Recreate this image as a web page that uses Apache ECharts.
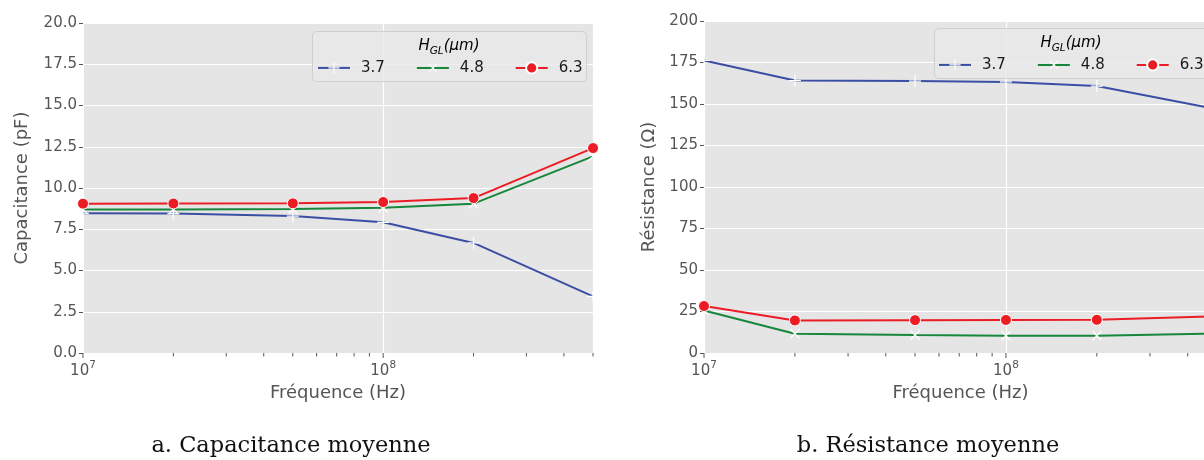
<!DOCTYPE html>
<html>
<head>
<meta charset="utf-8">
<script src="https://cdn.jsdelivr.net/npm/echarts@6/dist/echarts.min.js"></script>
<style>
html,body{margin:0;padding:0;background:#fff;overflow:hidden;width:1204px;height:460px;}
#chart{width:1230px;height:460px;}
</style>
</head>
<body>
<div id="chart"></div>
<script>
// ---- data ----
const freqs = [1e7, 2e7, 5e7, 1e8, 2e8, 5e8];
const seriesNames = ['3.7', '4.8', '6.3'];
const capa37 = [8.47, 8.45, 8.30, 7.92, 6.67, 3.43];
const capa48 = [8.70, 8.70, 8.72, 8.80, 9.05, 11.92];
const capa63 = [9.05, 9.06, 9.07, 9.15, 9.39, 12.42];
const res37 = [176.2, 164.1, 163.8, 163.3, 160.8, 146.8];
const res48 = [25.6, 11.6, 10.8, 10.4, 10.4, 11.7];
const res63 = [28.3, 19.6, 19.8, 19.9, 20.0, 22.2];
const capaTicks = [0, 2.5, 5, 7.5, 10, 12.5, 15, 17.5, 20];
const resTicks = [0, 25, 50, 75, 100, 125, 150, 175, 200];
const majorTicks = [1e7, 1e8];
const minorTicks = [2e7, 3e7, 4e7, 5e7, 6e7, 7e7, 8e7, 9e7, 2e8, 3e8, 4e8, 5e8];

const colors = {'3.7': '#3a4fa3', '4.8': '#16873b', '6.3': '#ec1c24'};
const plusPath = 'path://M9,0h2v9h9v2h-9v9h-2v-9h-9v-2h9z';
const fontSans = '"DejaVu Sans", sans-serif';

function markerFor(name) {
  if (name === '3.7') return {symbol: plusPath, symbolSize: 12, symbolRotate: 0, itemStyle: {color: '#ffffff'}};
  if (name === '4.8') return {symbol: plusPath, symbolSize: 13, symbolRotate: 45, itemStyle: {color: '#ffffff'}};
  return {symbol: 'circle', symbolSize: 11, symbolRotate: 0, itemStyle: {color: colors['6.3'], borderColor: '#ffffff', borderWidth: 1}};
}

function lineSeries(name, values, idx) {
  const m = markerFor(name);
  return {
    type: 'line', name: name, xAxisIndex: idx, yAxisIndex: idx,
    data: freqs.map((f, i) => [f, values[i]]),
    symbol: m.symbol, symbolSize: m.symbolSize, symbolRotate: m.symbolRotate,
    showAllSymbol: true,
    itemStyle: m.itemStyle,
    lineStyle: {color: colors[name], width: 2},
    emphasis: {disabled: true},
    clip: true,
    z: 3
  };
}

function tickSeries(ticks, idx, len) {
  return {
    type: 'custom', xAxisIndex: idx, yAxisIndex: idx, silent: true, clip: false, z: 4,
    data: ticks.map(f => [f, 0]),
    renderItem: function (params, api) {
      const p = api.coord([api.value(0), api.value(1)]);
      return {type: 'line', shape: {x1: p[0], y1: p[1], x2: p[0], y2: p[1] + len},
              style: {stroke: '#555555', lineWidth: 1}};
    }
  };
}

function xAxisFor(gridIndex) {
  return {
    type: 'log', logBase: 10, gridIndex: gridIndex, min: 1e7, max: 5e8,
    name: 'Fréquence (Hz)', nameLocation: 'middle', nameGap: 29,
    nameTextStyle: {fontFamily: fontSans, fontSize: 18, color: '#555555'},
    axisLine: {show: false}, axisTick: {show: false},
    splitLine: {show: true, lineStyle: {color: '#ffffff', width: 1.2}},
    minorTick: {show: false},
    axisLabel: {
      margin: 7, color: '#555555', fontFamily: fontSans,
      formatter: function (v) {
        const e = Math.log10(v);
        if (Math.abs(e - Math.round(e)) > 1e-6) return '';
        return '{b|10}{s|' + Math.round(e) + '}';
      },
      rich: {
        b: {fontSize: 15, fontFamily: fontSans, color: '#555555', verticalAlign: 'bottom'},
        s: {fontSize: 10.5, fontFamily: fontSans, color: '#555555', verticalAlign: 'bottom', padding: [0, 0, 8, 0]}
      }
    }
  };
}

function yAxisFor(gridIndex, ticks, name, decimals, gap) {
  return {
    type: 'value', gridIndex: gridIndex, min: ticks[0], max: ticks[ticks.length - 1],
    interval: ticks[1] - ticks[0],
    name: name, nameLocation: 'middle', nameGap: gap,
    nameTextStyle: {fontFamily: fontSans, fontSize: 18, color: '#555555'},
    axisLine: {show: false},
    axisTick: {show: true, length: 4, lineStyle: {color: '#555555', width: 1}},
    splitLine: {show: true, lineStyle: {color: '#ffffff', width: 1.2}},
    axisLabel: {margin: 6, fontFamily: fontSans, fontSize: 15, color: '#555555',
                formatter: v => v.toFixed(decimals)}
  };
}

function legendFor(left, top) {
  return {
    data: seriesNames, orient: 'horizontal', left: left, top: top, z: 20,
    itemWidth: 32, itemHeight: 14, itemGap: 31, padding: 0,
    selectedMode: false,
    lineStyle: {width: 2},
    textStyle: {fontFamily: fontSans, fontSize: 15, color: '#1a1a1a', padding: [0, 0, 0, 6]}
  };
}

const titleRich = {
  i: {fontFamily: fontSans, fontStyle: 'italic', fontSize: 15, color: '#1a1a1a', verticalAlign: 'bottom', padding: [0, 0, 3, 0]},
  sub: {fontFamily: fontSans, fontStyle: 'italic', fontSize: 10.5, color: '#1a1a1a', verticalAlign: 'bottom'}
};
const titleText = '{i|H}{sub|GL}{i|(μm)}';

function legendBox(x, y) {
  return [
    {type: 'rect', left: x, top: y, z: 10,
     shape: {width: 274, height: 50, r: 4},
     style: {fill: 'rgba(232,232,232,0.8)', stroke: '#cfcfcf', lineWidth: 1}},
    {type: 'text', z: 21, x: x + 137, y: y + 17,
     style: {text: titleText, rich: titleRich, align: 'center', verticalAlign: 'middle'}}
  ];
}

const chart = echarts.init(document.getElementById('chart'), null, {renderer: 'canvas'});
chart.setOption({
  animation: false,
  backgroundColor: '#ffffff',
  grid: [
    {left: 83, top: 23, width: 510, height: 330, show: true, backgroundColor: '#e5e5e5', borderWidth: 0, containLabel: false},
    {left: 704, top: 21, width: 513, height: 332, show: true, backgroundColor: '#e5e5e5', borderWidth: 0, containLabel: false}
  ],
  xAxis: [xAxisFor(0), xAxisFor(1)],
  yAxis: [
    yAxisFor(0, capaTicks, 'Capacitance (pF)', 1, 52),
    yAxisFor(1, resTicks, 'Résistance (Ω)', 0, 46)
  ],
  legend: [legendFor(317, 60), legendFor(938, 57)],
  series: [
    lineSeries('3.7', capa37, 0), lineSeries('4.8', capa48, 0), lineSeries('6.3', capa63, 0),
    lineSeries('3.7', res37, 1), lineSeries('4.8', res48, 1), lineSeries('6.3', res63, 1),
    tickSeries(majorTicks, 0, 5), tickSeries(minorTicks, 0, 3.5),
    tickSeries(majorTicks, 1, 5), tickSeries(minorTicks, 1, 3.5)
  ],
  graphic: [
    ...legendBox(312, 31),
    ...legendBox(934, 28),
    {type: 'text', x: 291, y: 446, z: 10,
     style: {text: 'a. Capacitance moyenne', font: '22.5px "DejaVu Serif", serif', fill: '#111111', align: 'center', verticalAlign: 'middle'}},
    {type: 'text', x: 928, y: 446, z: 10,
     style: {text: 'b. Résistance moyenne', font: '22.5px "DejaVu Serif", serif', fill: '#111111', align: 'center', verticalAlign: 'middle'}}
  ]
});
</script>
</body>
</html>
